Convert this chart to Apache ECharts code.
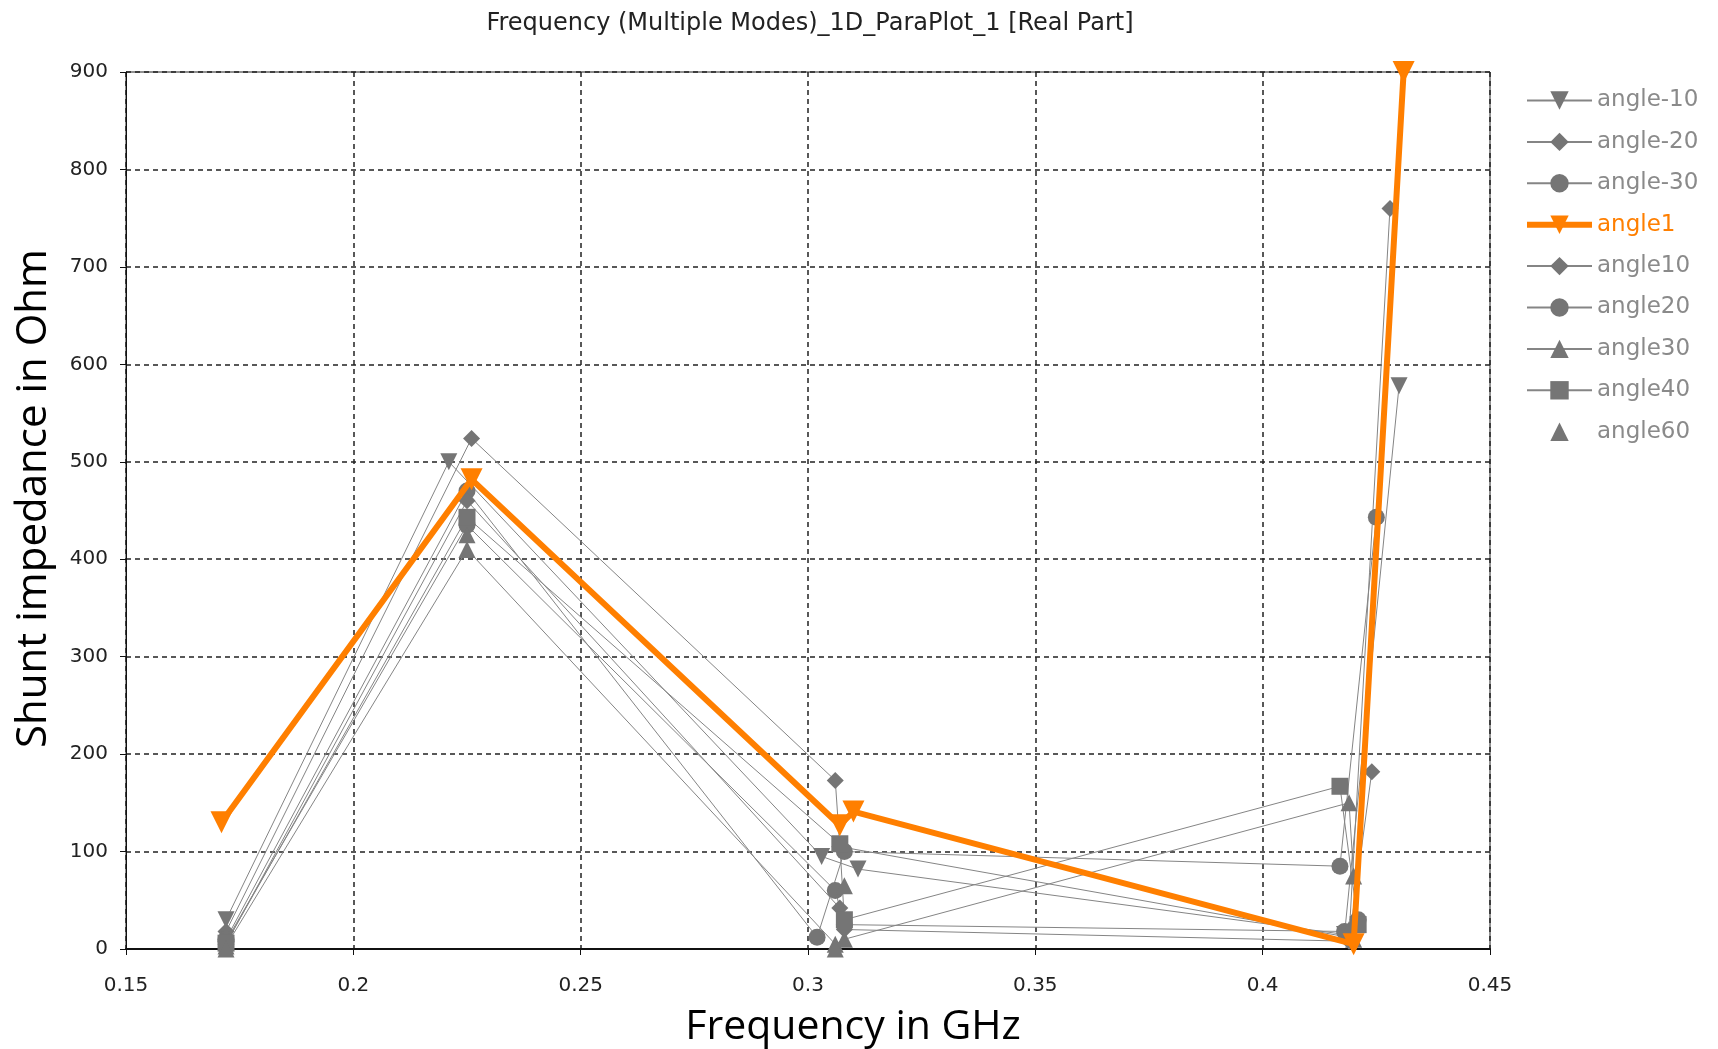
<!DOCTYPE html>
<html>
<head>
<meta charset="utf-8">
<script src="https://cdn.jsdelivr.net/npm/echarts@6.0.0/dist/echarts.min.js"></script>
<style>
  html, body { margin: 0; padding: 0; background: #fff; }
  #chart { width: 1718px; height: 1049px; }
</style>
</head>
<body>
<div id="chart"></div>
<script>
// frequencies (GHz) and shunt impedance (Ohm) per series
var names = ['angle-10', 'angle-20', 'angle-30', 'angle1', 'angle10', 'angle20', 'angle30', 'angle40', 'angle60'];

var fAngleM10 = [0.172, 0.221, 0.303, 0.311, 0.418, 0.430];
var vAngleM10 = [30, 500, 95, 82, 15, 578];

var fAngleM20 = [0.172, 0.226, 0.306, 0.307, 0.419, 0.428];
var vAngleM20 = [18, 524, 173, 105, 12, 760];

var fAngleM30 = [0.172, 0.225, 0.302, 0.308, 0.417, 0.425];
var vAngleM30 = [10, 470, 12, 100, 85, 443];

var fAngle1 = [0.171, 0.226, 0.307, 0.310, 0.420, 0.431];
var vAngle1 = [130, 482, 127, 141, 5, 900];

var fAngle10 = [0.172, 0.225, 0.307, 0.308, 0.419, 0.424];
var vAngle10 = [5, 460, 42, 20, 8, 182];

var fAngle20 = [0.172, 0.225, 0.306, 0.308, 0.418, 0.421];
var vAngle20 = [8, 435, 60, 25, 18, 30];

var fAngle30 = [0.172, 0.225, 0.306, 0.308, 0.419, 0.420];
var vAngle30 = [3, 410, 5, 10, 150, 75];

var fAngle40 = [0.172, 0.225, 0.307, 0.308, 0.417, 0.421];
var vAngle40 = [6, 443, 108, 30, 167, 25];

var fAngle60 = [0.172, 0.225, 0.306, 0.308, 0.419, 0.420];
var vAngle60 = [0, 425, 0, 65, 20, 10];

var xTicks = [0.15, 0.2, 0.25, 0.3, 0.35, 0.4, 0.45];
var yTicks = [0, 100, 200, 300, 400, 500, 600, 700, 800, 900];

var allF = [fAngleM10, fAngleM20, fAngleM30, fAngle1, fAngle10, fAngle20, fAngle30, fAngle40, fAngle60];
var allV = [vAngleM10, vAngleM20, vAngleM30, vAngle1, vAngle10, vAngle20, vAngle30, vAngle40, vAngle60];
var symbols = ['triangle', 'diamond', 'circle', 'triangle', 'diamond', 'circle', 'triangle', 'rect', 'triangle'];
var rotates = [180, 0, 0, 180, 0, 0, 0, 0, 0];

var grey = '#858585';
var markGrey = '#757575';
var orange = '#ff7f00';
var tahoma = "'DejaVu Sans', Verdana, sans-serif";

var myChart = echarts.init(document.getElementById('chart'));

var series = [];
for (var i = 0; i < names.length; i++) {
    var pts = [];
    for (var j = 0; j < allF[i].length; j++) {
        pts.push([allF[i][j], allV[i][j]]);
    }
    var isOrange = names[i] === 'angle1';
    var noLine = names[i] === 'angle60';   // markers only in the original
    series.push({
        name: names[i],
        type: 'line',
        data: pts,
        symbol: symbols[i],
        symbolRotate: rotates[i],
        symbolSize: isOrange ? 22 : 17,
        showAllSymbol: true,
        z: isOrange ? 10 : 2,
        lineStyle: {
            color: isOrange ? orange : grey,
            width: isOrange ? 6 : 1,
            opacity: noLine ? 0 : 1
        },
        itemStyle: {
            color: isOrange ? orange : markGrey
        },
        emphasis: { disabled: true },
        animation: false
    });
}

var legendData = names.map(function (n) {
    var item = {
        name: n,
        textStyle: { color: n === 'angle1' ? orange : '#8a8a8a' }
    };
    if (n === 'angle1') item.lineStyle = { width: 6 };
    return item;
});

option = {
    backgroundColor: '#fff',
    title: {
        text: 'Frequency (Multiple Modes)_1D_ParaPlot_1 [Real Part]',
        left: 805,
        textAlign: 'center',
        top: 7,
        textStyle: {
            fontFamily: tahoma,
            fontSize: 24,
            fontWeight: 'normal',
            color: '#222'
        }
    },
    legend: {
        orient: 'vertical',
        left: 1519,
        top: 84,
        itemWidth: 65,
        itemHeight: 23,
        itemGap: 18.4,
        data: legendData,
        textStyle: {
            fontFamily: tahoma,
            fontSize: 23
        }
    },
    grid: {
        left: 126,
        right: 228,
        top: 72,
        bottom: 100,
        outerBoundsMode: 'none',
        show: true,
        borderColor: '#222',
        borderWidth: 1
    },
    xAxis: {
        type: 'value',
        min: xTicks[0],
        max: xTicks[xTicks.length - 1],
        interval: 0.05,
        name: 'Frequency in GHz',
        nameLocation: 'middle',
        nameGap: 58,
        nameTextStyle: {
            fontFamily: "'Open Sans', sans-serif",
            fontSize: 41,
            color: '#000',
            padding: [0, 0, 0, 90]
        },
        axisLine: { show: true, lineStyle: { color: '#111', width: 2 } },
        axisTick: { show: true, length: 6, lineStyle: { color: '#111' } },
        axisLabel: {
            fontFamily: tahoma,
            fontSize: 20,
            color: '#222',
            margin: 27,
            formatter: function (v) { return +v.toFixed(2); }
        },
        splitLine: {
            show: true,
            lineStyle: { color: '#222', type: [5, 4], width: 1.5 }
        }
    },
    yAxis: {
        type: 'value',
        min: yTicks[0],
        max: yTicks[yTicks.length - 1],
        interval: 100,
        name: 'Shunt impedance in Ohm',
        nameLocation: 'middle',
        nameGap: 71,
        nameTextStyle: {
            fontFamily: "'Open Sans', sans-serif",
            fontSize: 42,
            color: '#000',
            padding: [0, 0, 0, 24]
        },
        axisLine: { show: true, lineStyle: { color: '#111', width: 1 } },
        axisTick: { show: true, length: 6, lineStyle: { color: '#111' } },
        axisLabel: {
            fontFamily: tahoma,
            fontSize: 20,
            color: '#222',
            margin: 18
        },
        splitLine: {
            show: true,
            lineStyle: { color: '#222', type: [5, 4], width: 1.5 }
        }
    },
    series: series
};

myChart.setOption(option);
</script>
</body>
</html>
